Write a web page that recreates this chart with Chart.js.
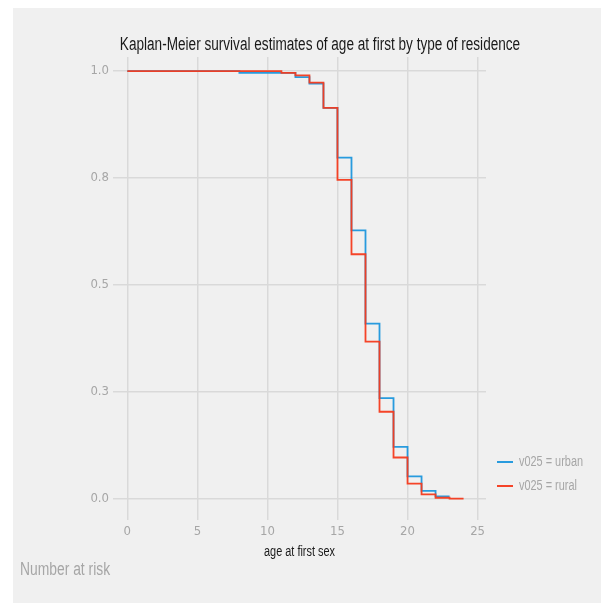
<!DOCTYPE html>
<html>
<head>
<meta charset="utf-8">
<title>Kaplan-Meier survival estimates</title>
<script src="https://cdn.jsdelivr.net/npm/chart.js@4"></script>
<style>
  html, body { margin: 0; padding: 0; background: #ffffff; }
  #wrap { width: 609px; height: 603px; }
</style>
</head>
<body>
<div id="wrap"><canvas id="kmChart" width="609" height="603"></canvas></div>
<script>
// survival steps (age, S(age))
const urbanAge = [0, 8, 12, 13, 14, 15, 16, 17, 18, 19, 20, 21, 22, 23];
const urbanSurv = [1.000, 0.996, 0.986, 0.971, 0.914, 0.798, 0.628, 0.410, 0.236, 0.122, 0.053, 0.019, 0.006, 0.006];
const ruralAge = [0, 11, 12, 13, 14, 15, 16, 17, 18, 19, 20, 21, 22, 23, 24];
const ruralSurv = [1.000, 0.996, 0.990, 0.973, 0.914, 0.746, 0.572, 0.368, 0.204, 0.097, 0.036, 0.011, 0.003, 0.001, 0.001];

const seriesLabels = ['v025 = urban', 'v025 = rural'];
const xTicks = [0, 5, 10, 15, 20, 25];
const yTicks = [0, 0.25, 0.5, 0.75, 1];

const titleText = 'Kaplan-Meier survival estimates of age at first by type of residence';
const xTitle = 'age at first sex';
const riskText = 'Number at risk';

const FONT = "'Liberation Sans', Arial, sans-serif";
const GREY = '#a6a6a6';

function toPoints(xs, ys) {
    return xs.map((x, i) => ({ x: x, y: ys[i] }));
}

// draw text squeezed sideways (the original uses a narrow face)
function narrowText(ctx, text, x, y, size, squeeze, align) {
    ctx.save();
    ctx.font = size + 'px ' + FONT;
    ctx.textAlign = align;
    ctx.textBaseline = 'middle';
    ctx.translate(x, y);
    ctx.scale(squeeze, 1);
    ctx.fillText(text, 0, 0);
    ctx.restore();
}

// background panel, titles, risk label and legend
const decorPlugin = {
    id: 'decor',
    beforeDraw(chart) {
        const ctx = chart.ctx;
        ctx.save();
        ctx.fillStyle = '#ffffff';
        ctx.fillRect(0, 0, chart.width, chart.height);
        ctx.fillStyle = '#f0f0f0';
        ctx.fillRect(13, 8, 588, 595);
        ctx.restore();
    },
    afterDraw(chart) {
        const ctx = chart.ctx;
        const area = chart.chartArea;

        ctx.fillStyle = '#1a1a1a';
        narrowText(ctx, titleText, 320, 45, 18, 0.755, 'center');
        narrowText(ctx, xTitle, (area.left + area.right) / 2, 552, 14, 0.78, 'center');

        ctx.fillStyle = GREY;
        narrowText(ctx, riskText, 20, 570, 18, 0.77, 'left');

        // legend
        chart.data.datasets.slice().sort((a, b) => a.legendPos - b.legendPos).forEach((ds, i) => {
            const y = 462 + i * 24;
            ctx.save();
            ctx.strokeStyle = ds.borderColor;
            ctx.lineWidth = 2;
            ctx.beginPath();
            ctx.moveTo(497, y);
            ctx.lineTo(513, y);
            ctx.stroke();
            ctx.restore();
            ctx.fillStyle = GREY;
            narrowText(ctx, ds.label, 519, y, 14, 0.78, 'left');
        });
    }
};

const ctx = document.getElementById('kmChart').getContext('2d');

const kmChart = new Chart(ctx, {
    type: 'line',
    data: {
        datasets: [
            {
                label: seriesLabels[0],
                legendPos: 0,
                data: toPoints(urbanAge, urbanSurv),
                borderColor: 'rgba(28, 150, 220, 0.95)',
                borderWidth: 1.8,
                stepped: 'before',
                pointRadius: 0,
                fill: false,
                order: 1
            },
            {
                label: seriesLabels[1],
                legendPos: 1,
                data: toPoints(ruralAge, ruralSurv),
                borderColor: 'rgba(244, 58, 28, 0.95)',
                borderWidth: 1.8,
                stepped: 'before',
                pointRadius: 0,
                fill: false,
                order: 0
            }
        ]
    },
    options: {
        responsive: false,
        animation: false,
        layout: {
            padding: { left: 0, right: 123, top: 57, bottom: 0 }
        },
        plugins: {
            legend: { display: false },
            title: { display: false },
            tooltip: { enabled: false }
        },
        scales: {
            x: {
                type: 'linear',
                min: -1.02,
                max: 25.6,
                afterBuildTicks: scale => { scale.ticks = xTicks.map(v => ({ value: v })); },
                afterFit: scale => { scale.height = 83; },
                border: { display: false },
                grid: { color: '#d9d9d9', lineWidth: 1.5, drawTicks: false },
                ticks: {
                    color: GREY,
                    padding: 4,
                    font: { family: "'DejaVu Sans Condensed', sans-serif", size: 13 },
                    callback: v => String(v)
                }
            },
            y: {
                min: -0.049,
                max: 1.033,
                afterBuildTicks: scale => { scale.ticks = yTicks.map(v => ({ value: v })); },
                afterFit: scale => { scale.width = 113; },
                border: { display: false },
                grid: { color: '#d9d9d9', lineWidth: 1.5, drawTicks: false },
                ticks: {
                    color: GREY,
                    padding: 4,
                    font: { family: "'DejaVu Sans Condensed', sans-serif", size: 13 },
                    callback: v => v.toFixed(1)
                }
            }
        }
    },
    plugins: [decorPlugin]
});
</script>
</body>
</html>
